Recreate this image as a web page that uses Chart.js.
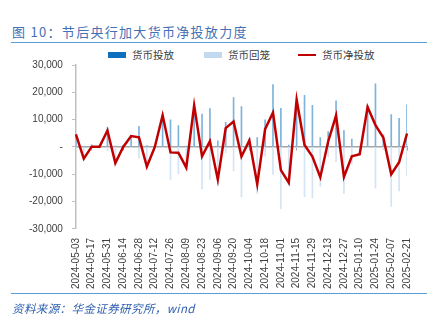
<!DOCTYPE html>
<html>
<head>
<meta charset="utf-8">
<script src="https://cdn.jsdelivr.net/npm/chart.js@4/dist/chart.umd.min.js"></script>
<style>
  html, body { margin: 0; padding: 0; background: #fff; }
  body { width: 435px; height: 322px; position: relative; overflow: hidden; font-family: "Noto Sans CJK SC", "Liberation Sans", sans-serif; }
  #title { position: absolute; left: 12px; top: 23px; font-size: 13px; letter-spacing: 1.3px; color: #4470B5; white-space: nowrap; line-height: 18px; }
  #rule1 { position: absolute; left: 11px; top: 42px; width: 416px; height: 0; border-top: 1.5px solid #5B9BD5; }
  #rule2 { position: absolute; left: 11px; top: 293px; width: 416px; height: 0; border-top: 1.5px solid #5B9BD5; }
  #foot { position: absolute; left: 12px; top: 299px; font-size: 11.5px; font-style: italic; letter-spacing: 0.4px; color: #2F5FAE; white-space: nowrap; line-height: 18px; }
  #legend { position: absolute; top: 48px; left: 0; width: 435px; height: 14px; font-size: 10.5px; color: #404040; }
  .li { position: absolute; top: 0; line-height: 14px; white-space: nowrap; }
  .sw { display: inline-block; width: 18px; vertical-align: middle; margin-right: 6px; position: relative; top: -1px; }
  #chartWrap { position: absolute; left: 0; top: 44px; width: 435px; height: 260px; }
</style>
</head>
<body>
<div id="title">图 10：节后央行加大货币净投放力度</div>
<div id="rule1"></div>
<div id="legend"></div>
<div id="chartWrap"><canvas id="c" width="435" height="260"></canvas></div>
<div id="rule2"></div>
<div id="foot">资料来源：华金证券研究所，wind</div>
<script>
// ---- data ----
const dates = [
  "2024-05-03","2024-05-10","2024-05-17","2024-05-24","2024-05-31","2024-06-07","2024-06-14","2024-06-21","2024-06-28",
  "2024-07-05","2024-07-12","2024-07-19","2024-07-26","2024-08-02","2024-08-09","2024-08-16","2024-08-23","2024-08-30",
  "2024-09-06","2024-09-13","2024-09-20","2024-09-27","2024-10-04","2024-10-11","2024-10-18","2024-10-25",
  "2024-11-01","2024-11-08","2024-11-15","2024-11-22","2024-11-29","2024-12-06","2024-12-13","2024-12-20","2024-12-27",
  "2025-01-03","2025-01-10","2025-01-17","2025-01-24","2025-01-31","2025-02-07","2025-02-14","2025-02-21"
];
// 货币投放 (injection)
const injection = [
  4600, 0, 800, 500, 7300, 300, 500, 4200, 7500,
  500, 300, 11800, 9900, 7800, 300, 15500, 12000, 14000,
  2200, 9000, 18100, 14800, 3000, 3400, 9900, 22800,
  14100, 700, 17500, 18900, 15200, 3400, 5600, 16900, 6000,
  2900, 300, 15000, 23100, 4400, 11800, 10500, 15400
];
// 货币回笼 (withdrawal, negative)
const withdrawal = [
  0, -4300, -700, -400, -1300, -6200, -500, -200, -4000,
  -7700, -400, -200, -11900, -9900, -7900, -300, -15400, -11900,
  -14100, -2100, -8800, -18300, -600, -17000, -3400, -10100,
  -22600, -13800, -200, -18200, -18700, -14500, -3600, -5400, -17000,
  -6300, -3000, -400, -15100, -1000, -21800, -16100, -10500
];
// 货币净投放 (net injection)
const netInjection = [
  4600, -4300, 100, 100, 6000, -5900, 0, 4000, 3500,
  -7200, -100, 11600, -2000, -2100, -7600, 15200, -3400, 2100,
  -11900, 6900, 9300, -3500, 2400, -13600, 6500, 12600,
  -8500, -13100, 17300, 700, -3500, -11100, 2000, 11500, -11000,
  -3400, -2700, 14600, 8000, 3400, -10000, -5600, 4900
];
const seriesNames = ["货币投放", "货币回笼", "货币净投放"];
const yMin = -30000, yMax = 30000, yStep = 10000;

// ---- legend (HTML) ----
const legendColors = ["#0E6FBF", "#C3D9EF", "#C00000"];
const legendX = [108, 204, 298];
const lg = document.getElementById("legend");
seriesNames.forEach((n, i) => {
  const d = document.createElement("div");
  d.className = "li";
  d.style.left = legendX[i] + "px";
  const sw = document.createElement("span");
  sw.className = "sw";
  sw.style.height = i === 2 ? "2.5px" : "6px";
  sw.style.background = legendColors[i];
  d.appendChild(sw);
  d.appendChild(document.createTextNode(n));
  lg.appendChild(d);
});

// ---- chart ----
const fontTick = { family: "'Liberation Sans', Arial, sans-serif", size: 10 };
new Chart(document.getElementById("c"), {
  data: {
    labels: dates,
    datasets: [
      { type: "line", label: seriesNames[2], data: netInjection, borderColor: "#C00000", borderWidth: 2.5,
        pointRadius: 0, tension: 0, fill: false, order: 0, xAxisID: "x", yAxisID: "y" },
      { type: "bar", label: seriesNames[0], data: injection, backgroundColor: "#7DB3DD", barThickness: 1,
        grouped: false, order: 1, xAxisID: "x", yAxisID: "y" },
      { type: "bar", label: seriesNames[1], data: withdrawal, backgroundColor: "#D3E4F4", barThickness: 1,
        grouped: false, order: 2, xAxisID: "x", yAxisID: "y" }
    ]
  },
  options: {
    responsive: false,
    animation: false,
    devicePixelRatio: 1,
    layout: { padding: { left: 20, right: 28, top: 21, bottom: 6 } },
    plugins: { legend: { display: false }, tooltip: { enabled: false } },
    scales: {
      x: {
        type: "category",
        offset: false,
        position: "bottom",
        grid: { display: false, drawTicks: false },
        border: { display: false },
        ticks: {
          autoSkip: false, maxRotation: 90, minRotation: 90, padding: 9,
          color: "#404040", font: fontTick,
          callback: function (v, i) { return i % 2 === 0 ? dates[i] : ""; }
        }
      },
      x2: {
        type: "category",
        labels: dates,
        offset: false,
        position: { y: 0 },
        grid: {
          drawOnChartArea: false, drawTicks: true, tickLength: 3, lineWidth: 1,
          color: function (ctx) { return ctx.index % 2 === 0 ? "#A6A6A6" : "rgba(0,0,0,0)"; }
        },
        border: { display: true, color: "#A6A6A6", width: 1.5 },
        ticks: { display: false }
      },
      y: {
        min: yMin, max: yMax,
        grid: { drawOnChartArea: false, drawTicks: true, tickLength: 4, color: "#BFBFBF" },
        border: { display: true, color: "#BFBFBF", width: 1.5 },
        ticks: {
          stepSize: yStep, padding: 9, color: "#404040", font: fontTick,
          callback: function (v) { return v === 0 ? "-" : v.toLocaleString("en-US"); }
        }
      }
    }
  }
});
</script>
</body>
</html>
